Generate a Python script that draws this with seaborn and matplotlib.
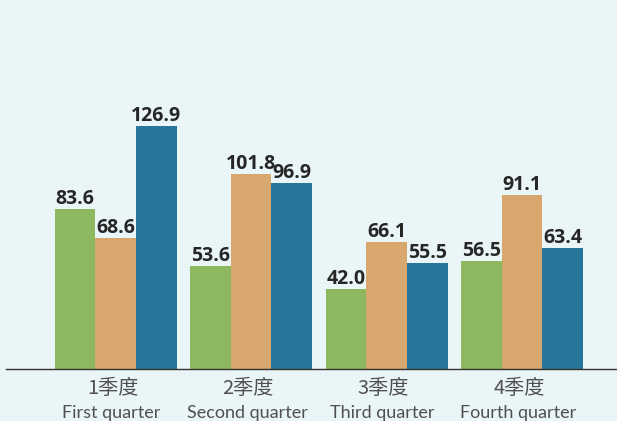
import matplotlib
matplotlib.use("Agg")
import matplotlib.pyplot as plt
import seaborn as sns
import pandas as pd

quarters_cn = ["1季度", "2季度", "3季度", "4季度"]
quarters_en = ["First quarter", "Second quarter", "Third quarter", "Fourth quarter"]
series = ["A", "B", "C"]
vals_a = [83.6, 53.6, 42.0, 56.5]
vals_b = [68.6, 101.8, 66.1, 91.1]
vals_c = [126.9, 96.9, 55.5, 63.4]
colors = ["#8db860", "#d7a76e", "#28769b"]

rows = []
for s, vals in zip(series, [vals_a, vals_b, vals_c]):
    for q, v in zip(quarters_cn, vals):
        rows.append({"quarter": q, "series": s, "value": v})
df = pd.DataFrame(rows)

sns.set_style("white")
plt.rcParams["font.family"] = ["Open Sans", "Noto Sans CJK SC", "DejaVu Sans"]

bg = "#eaf5f7"
fig = plt.figure(figsize=(6.17, 4.21), dpi=100, facecolor=bg)
ax = fig.add_axes([6 / 617, 52 / 421, 611 / 617, 369 / 421])
ax.set_facecolor(bg)

sns.barplot(data=df, x="quarter", y="value", hue="series", palette=colors,
            width=0.9, saturation=1, ax=ax, legend=False, linewidth=0)

for c in ax.containers:
    ax.bar_label(c, fmt="%.1f", padding=0, fontsize=14, fontweight="bold",
                 color="#262626")

ax.set_xlim(-0.808, 3.70)
ax.set_ylim(0, 192.7)
ax.set_yticks([])
ax.set_xlabel("")
ax.set_ylabel("")
ax.set_xticks(range(len(quarters_cn)))
ax.set_xticklabels([])
ax.tick_params(axis="x", length=0)

lab_color = "#505050"
for i, (cn, en) in enumerate(zip(quarters_cn, quarters_en)):
    ax.annotate(cn, xy=(i, 0), xycoords=("data", "axes fraction"),
                xytext=(-3, -25), textcoords="offset pixels",
                ha="center", va="baseline", fontsize=14.5, color=lab_color,
                family=["Noto Sans CJK SC", "DejaVu Sans"], annotation_clip=False)
    ax.annotate(en, xy=(i, 0), xycoords=("data", "axes fraction"),
                xytext=(-4, -49), textcoords="offset pixels",
                ha="center", va="baseline", fontsize=13, color=lab_color,
                family=["Lato", "DejaVu Sans"], annotation_clip=False)

for side in ["top", "right", "left"]:
    ax.spines[side].set_visible(False)
ax.spines["bottom"].set_color("#333333")
ax.spines["bottom"].set_linewidth(1)

fig.savefig("out.png", dpi=100, facecolor=bg)
